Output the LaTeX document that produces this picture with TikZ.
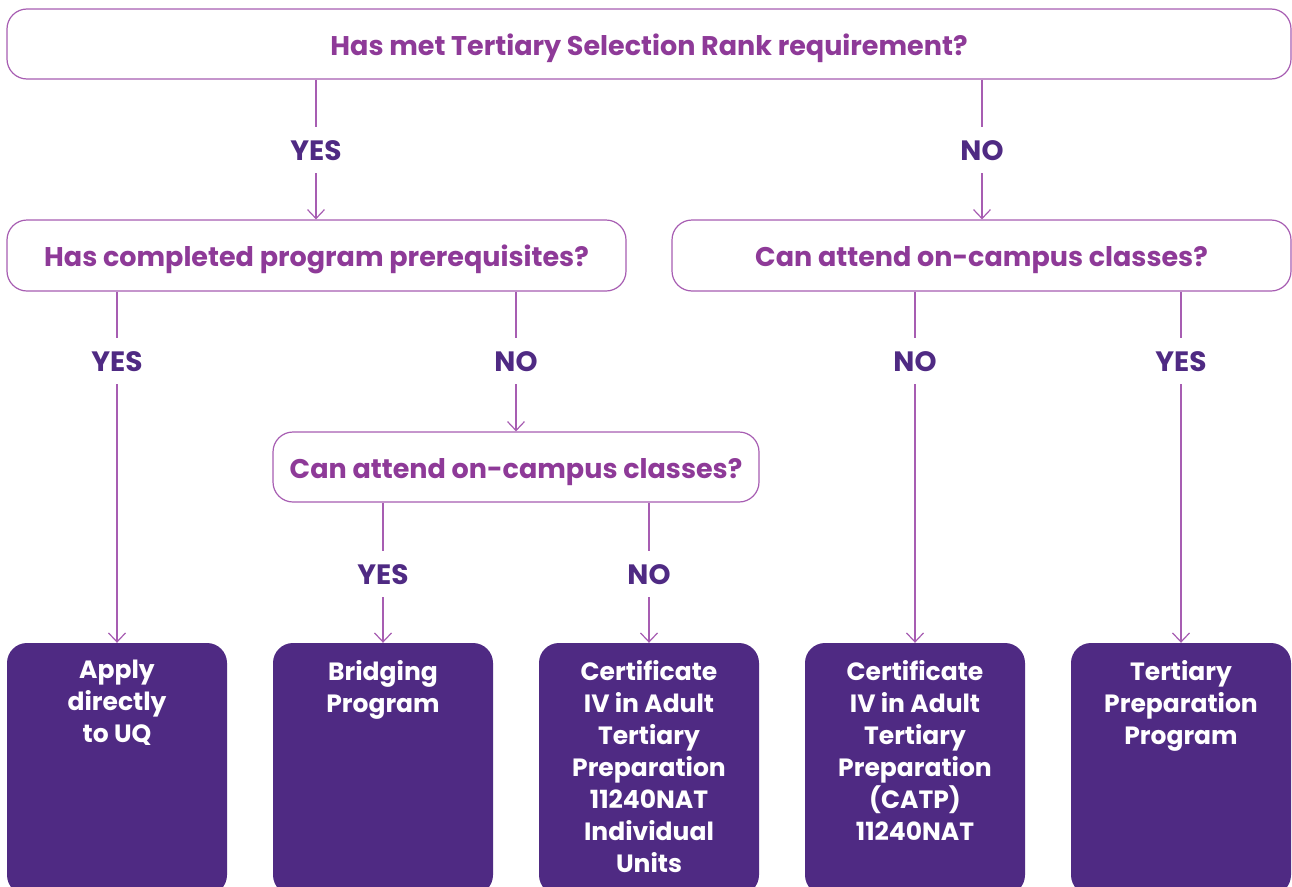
\documentclass[tikz,border=0pt]{standalone}
\usepackage{fontspec}
\setmainfont{Poppins}
\usetikzlibrary{arrows.meta}
\definecolor{qtext}{HTML}{8E3A98}
\definecolor{qline}{HTML}{A75DB2}
\definecolor{lab}{HTML}{4F2A83}
\definecolor{boxfill}{HTML}{4F2A83}
\tikzset{
  x=1pt,y=-1pt,
  qbox/.style={draw=qline,line width=1.2pt,rounded corners=20pt,fill=white,
    text=qtext,font=\fontsize{27}{30}\selectfont\bfseries,inner sep=0pt,text height=22pt,text depth=0pt},
  ansbox/.style={fill=boxfill,rounded corners=20pt,minimum width=220pt,minimum height=252pt,inner sep=0pt},
  anstext/.style={anchor=north,text=white,align=center,font=\fontsize{25}{32}\selectfont\bfseries,inner sep=0pt,
    execute at begin node={\rule{0pt}{21pt}}},
  lbl/.style={text=lab,font=\fontsize{28}{28}\selectfont\bfseries,minimum height=46pt,text height=20pt,text depth=0pt,inner sep=0pt},
  conn/.style={draw=qline,line width=1.2pt},
  arr/.style={conn,-{Straight Barb[length=9pt,width=17pt,line width=1.2pt]}},
}
\begin{document}
\begin{tikzpicture}
\useasboundingbox (0,0) rectangle (1292,886);
\clip (0,0) rectangle (1292,886);
% question boxes
\node[qbox,minimum width=1284pt,minimum height=70pt] (q1) at (649,44) {Has met Tertiary Selection Rank requirement?};
\node[qbox,minimum width=619pt,minimum height=71pt] (q2) at (316.5,255.5) {Has completed program prerequisites?};
\node[qbox,minimum width=619pt,minimum height=71pt] (q3) at (981.5,255.5) {Can attend on-campus classes?};
\node[qbox,minimum width=486pt,minimum height=70pt] (q4) at (516,467) {Can attend on-campus classes?};
% answer boxes
\node[ansbox] (b1) at (117,769) {};
\node[ansbox] (b2) at (383,769) {};
\node[ansbox] (b3) at (649,769) {};
\node[ansbox] (b4) at (915,769) {};
\node[ansbox] (b5) at (1181,769) {};
\node[anstext] (t1) at ([yshift=-17pt]b1.north) {Apply\\directly\\to UQ};
\node[anstext] (t2) at ([yshift=-17pt]b2.north) {Bridging\\Program};
\node[anstext] (t3) at ([yshift=-17pt]b3.north) {Certificate\\IV in Adult\\Tertiary\\Preparation\\11240NAT\\Individual\\Units};
\node[anstext] (t4) at ([yshift=-17pt]b4.north) {Certificate\\IV in Adult\\Tertiary\\Preparation\\(CATP)\\11240NAT};
\node[anstext] (t5) at ([yshift=-17pt]b5.north) {Tertiary\\Preparation\\Program};
% labels
\node[lbl] (l1) at (316,150) {YES};
\node[lbl] (l2) at (982,150) {NO};
\node[lbl] (l3) at (117,361) {YES};
\node[lbl] (l4) at (516,361) {NO};
\node[lbl] (l5) at (915,361) {NO};
\node[lbl] (l6) at (1181,361) {YES};
\node[lbl] (l7) at (383,574) {YES};
\node[lbl] (l8) at (649,574) {NO};
% connectors
\draw[conn] (q1.south -| l1) -- (l1.north); \draw[arr] (l1.south) -- (q2.north -| l1);
\draw[conn] (q1.south -| l2) -- (l2.north); \draw[arr] (l2.south) -- (q3.north -| l2);
\draw[conn] (q2.south -| l3) -- (l3.north); \draw[arr] (l3.south) -- (b1.north);
\draw[conn] (q2.south -| l4) -- (l4.north); \draw[arr] (l4.south) -- (q4.north -| l4);
\draw[conn] (q3.south -| l5) -- (l5.north); \draw[arr] (l5.south) -- (b4.north);
\draw[conn] (q3.south -| l6) -- (l6.north); \draw[arr] (l6.south) -- (b5.north);
\draw[conn] (q4.south -| l7) -- (l7.north); \draw[arr] (l7.south) -- (b2.north);
\draw[conn] (q4.south -| l8) -- (l8.north); \draw[arr] (l8.south) -- (b3.north);
\end{tikzpicture}
\end{document}
